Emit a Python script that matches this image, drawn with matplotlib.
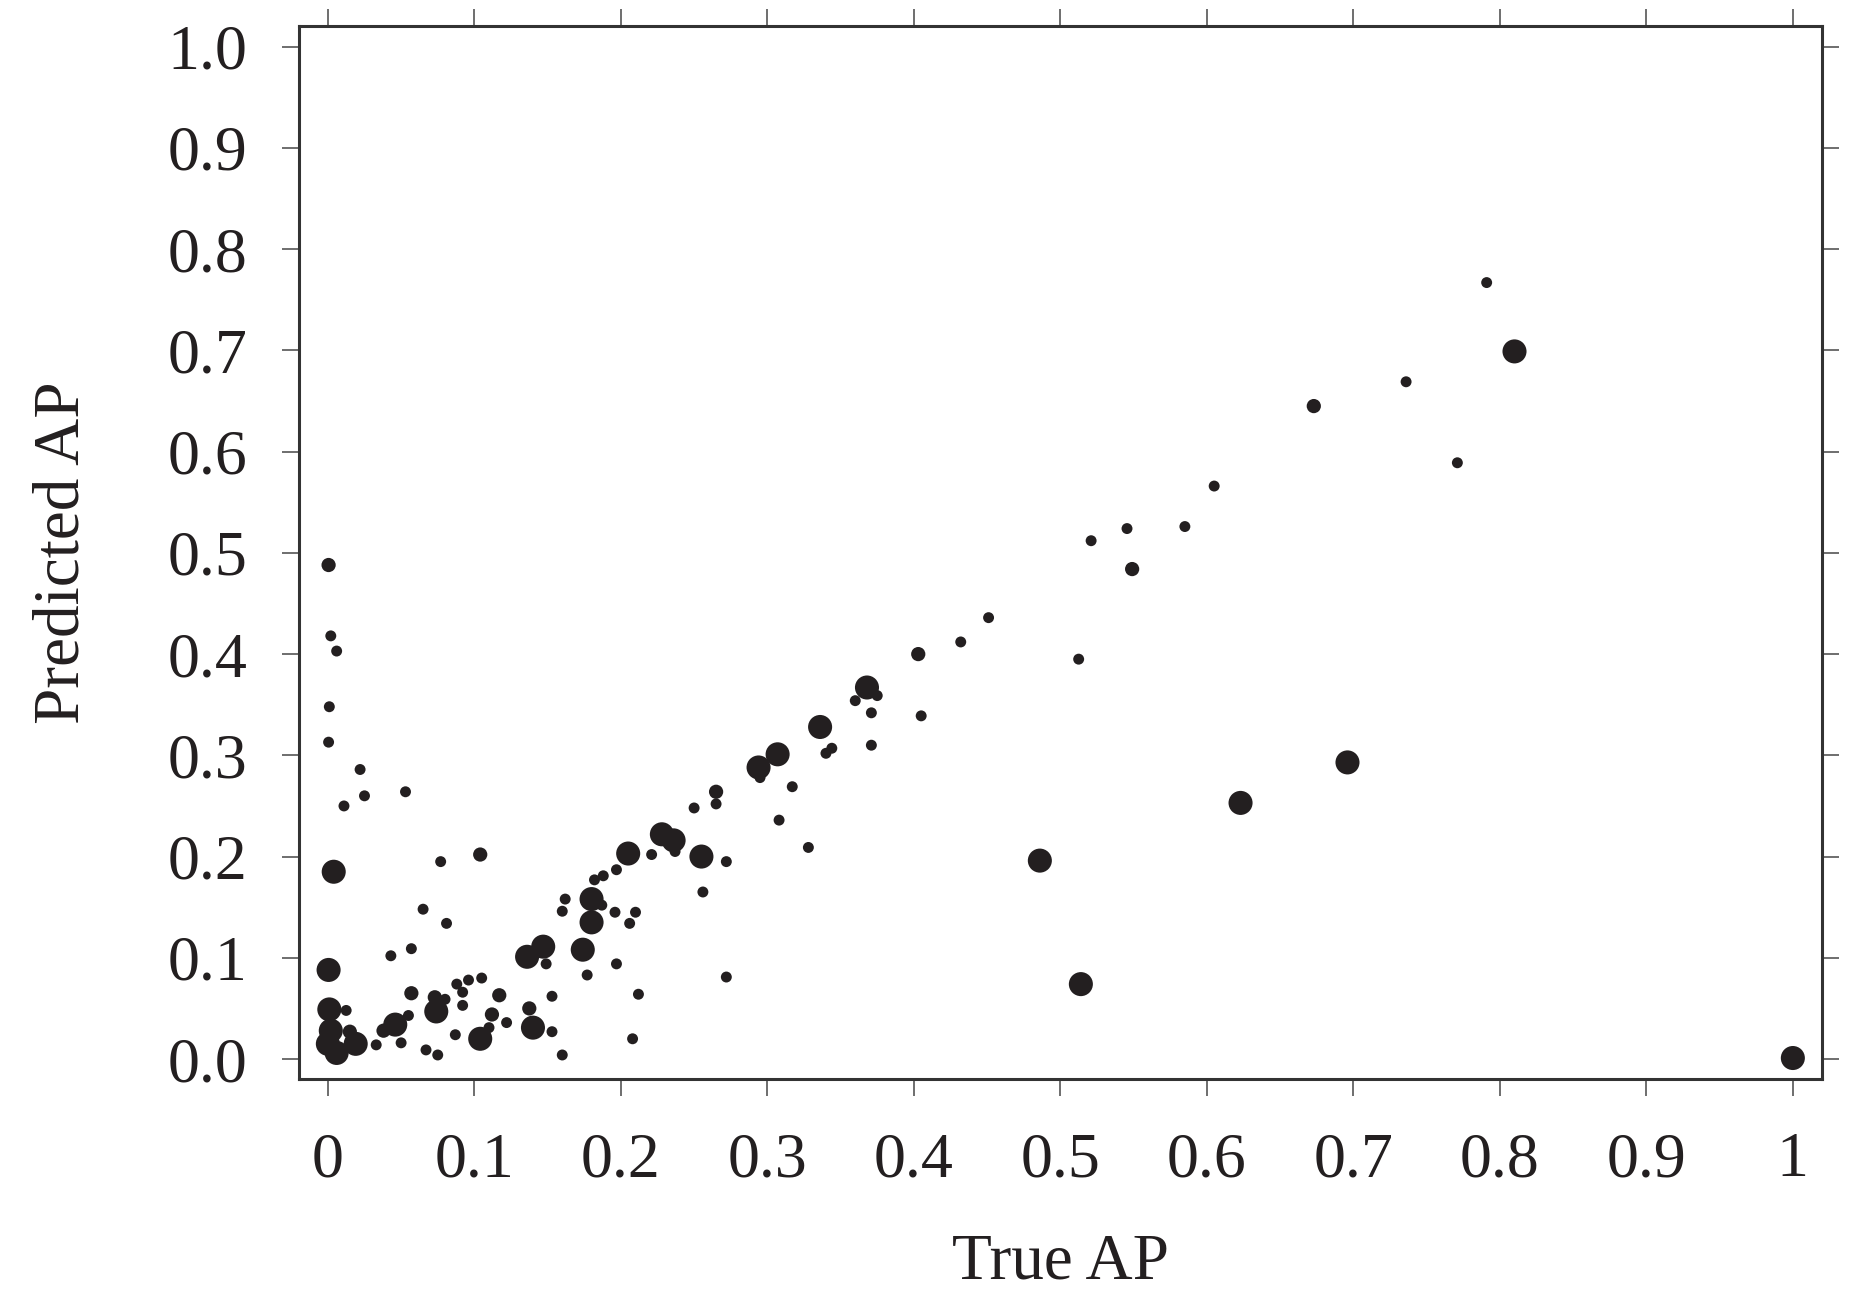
import matplotlib
matplotlib.use("Agg")
import matplotlib.pyplot as plt

# true AP / predicted AP, split by marker size class
small_x = [0.002, 0.006, 0.001, 0.0005, 0.022, 0.025, 0.011, 0.053, 0.077, 0.065,
           0.081, 0.057, 0.043, 0.0125, 0.033, 0.050, 0.055, 0.067, 0.075, 0.087,
           0.080, 0.092, 0.092, 0.088, 0.096, 0.105, 0.110, 0.122, 0.153, 0.153,
           0.160, 0.149, 0.177, 0.187, 0.162, 0.160, 0.182, 0.188, 0.197, 0.196,
           0.197, 0.210, 0.206, 0.212, 0.208, 0.221, 0.237, 0.250, 0.265, 0.256,
           0.272, 0.272, 0.375, 0.360, 0.371, 0.371, 0.340, 0.344, 0.295, 0.317,
           0.308, 0.328, 0.432, 0.451, 0.405, 0.5125, 0.521, 0.5455, 0.585, 0.605,
           0.736, 0.771, 0.791]
small_y = [0.418, 0.403, 0.348, 0.313, 0.286, 0.260, 0.250, 0.264, 0.195, 0.148,
           0.134, 0.109, 0.102, 0.048, 0.014, 0.016, 0.043, 0.009, 0.004, 0.024,
           0.059, 0.053, 0.066, 0.074, 0.078, 0.080, 0.031, 0.036, 0.062, 0.027,
           0.004, 0.094, 0.083, 0.152, 0.158, 0.146, 0.177, 0.181, 0.187, 0.145,
           0.094, 0.145, 0.134, 0.064, 0.020, 0.202, 0.205, 0.248, 0.252, 0.165,
           0.195, 0.081, 0.359, 0.354, 0.342, 0.310, 0.302, 0.307, 0.278, 0.269,
           0.236, 0.209, 0.412, 0.436, 0.339, 0.395, 0.512, 0.524, 0.526, 0.566,
           0.669, 0.589, 0.767]

mid_x = [0.0005, 0.104, 0.015, 0.038, 0.057, 0.073, 0.112, 0.117, 0.1375, 0.265,
         0.403, 0.549, 0.673]
mid_y = [0.488, 0.202, 0.027, 0.028, 0.065, 0.061, 0.044, 0.063, 0.050, 0.264,
         0.400, 0.484, 0.645]

big_x = [0.004, 0.0005, 0.001, 0.002, 0.0, 0.006, 0.019, 0.046, 0.074, 0.104,
         0.140, 0.136, 0.147, 0.174, 0.180, 0.180, 0.205, 0.228, 0.236, 0.255,
         0.294, 0.307, 0.336, 0.368, 0.486, 0.514, 0.623, 0.696, 0.810, 1.0]
big_y = [0.185, 0.088, 0.049, 0.028, 0.015, 0.006, 0.015, 0.034, 0.047, 0.020,
         0.031, 0.101, 0.111, 0.108, 0.135, 0.158, 0.203, 0.222, 0.216, 0.200,
         0.288, 0.301, 0.328, 0.367, 0.196, 0.074, 0.253, 0.293, 0.699, 0.001]

x_ticks = [0, 0.1, 0.2, 0.3, 0.4, 0.5, 0.6, 0.7, 0.8, 0.9, 1.0]
x_labels = ["0", "0.1", "0.2", "0.3", "0.4", "0.5", "0.6", "0.7", "0.8", "0.9", "1"]
y_ticks = [0.0, 0.1, 0.2, 0.3, 0.4, 0.5, 0.6, 0.7, 0.8, 0.9, 1.0]
y_labels = ["0.0", "0.1", "0.2", "0.3", "0.4", "0.5", "0.6", "0.7", "0.8", "0.9", "1.0"]

INK = "#231f20"
plt.rcParams["font.family"] = ["Liberation Serif", "DejaVu Serif"]

fig = plt.figure(figsize=(18.66, 13.03), dpi=100)
ax = fig.add_axes([0.160, 0.1717, 0.8165, 0.808])

ax.scatter(small_x, small_y, s=62, color=INK, edgecolors="none", zorder=3)
ax.scatter(mid_x, mid_y, s=105, color=INK, edgecolors="none", zorder=3)
ax.scatter(big_x, big_y, s=300, color=INK, edgecolors="none", zorder=3)

ax.set_xlim(-0.02, 1.02)
ax.set_ylim(-0.02, 1.02)
ax.set_xticks(x_ticks)
ax.set_xticklabels(x_labels)
ax.set_yticks(y_ticks)
ax.set_yticklabels(y_labels)

ax.tick_params(direction="out", length=12, width=1.2, color="#555555",
               labelsize=46, labelcolor=INK, top=True, right=True)
ax.tick_params(axis="x", pad=26)
ax.tick_params(axis="y", pad=25)
for sp in ax.spines.values():
    sp.set_linewidth(2.2)
    sp.set_color("#333333")

ax.set_xlabel("True AP", fontsize=47, color=INK)
ax.set_ylabel("Predicted AP", fontsize=47, color=INK)
ax.xaxis.label.set_va("center")
ax.yaxis.label.set_va("center")
ax.xaxis.set_label_coords(0.5, -0.174)
ax.yaxis.set_label_coords(-0.155, 0.5)

fig.savefig("out.png", dpi=100)
